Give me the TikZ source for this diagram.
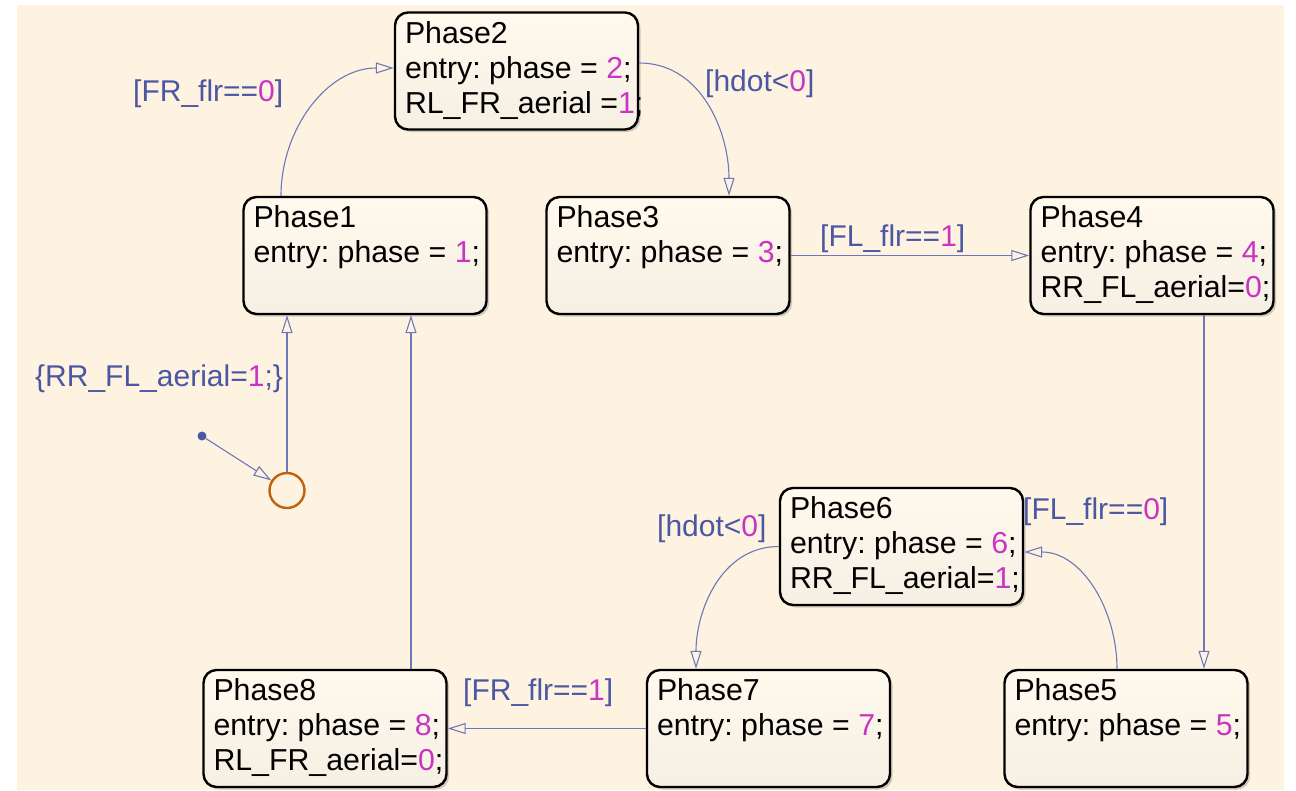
\documentclass[tikz,border=0pt]{standalone}
\usepackage{fontspec}
\setmainfont{Liberation Sans}
\usetikzlibrary{arrows.meta,shadows,calc}
\frenchspacing
\definecolor{bg}{HTML}{FEF3E0}
\definecolor{boxtop}{HTML}{FFF9EE}
\definecolor{boxbot}{HTML}{F6EFE3}
\definecolor{connc}{HTML}{6F77BB}
\definecolor{lblc}{HTML}{4C57A4}
\definecolor{numc}{HTML}{C935C3}
\definecolor{initc}{HTML}{C0620C}
\newcommand{\nm}[1]{\textcolor{numc}{#1}}
\begin{document}
\begin{tikzpicture}[x=1pt,y=-1pt,
  statebox/.style={draw=black, line width=2.4pt, rounded corners=13pt,
    minimum width=243pt, minimum height=117pt, inner sep=0pt,
    top color=boxtop, bottom color=boxbot,
    drop shadow={shadow xshift=2.5pt, shadow yshift=-2.5pt, opacity=0.3, fill=black!60}},
  stxt/.style={anchor=north west, inner sep=0pt, align=left,
    font=\fontsize{30.3}{34.8}\selectfont, text=black},
  lbl/.style={text=lblc, font=\fontsize{30}{34}\selectfont, inner sep=0pt, anchor=west},
  conn/.style={draw=connc, line width=1.1pt, -{Triangle[open, length=18pt, width=11pt]}}
]
\useasboundingbox (0,0) rectangle (1296,790);
\fill[white] (0,0) rectangle (1296,790);
\fill[bg] (17,5) rectangle (1284,790);

% states
\node[statebox] (p2) at (516.5,71) {};
\node[statebox] (p1) at (365,255.5) {};
\node[statebox] (p3) at (668,255.5) {};
\node[statebox] (p4) at (1152,255.5) {};
\node[statebox] (p6) at (901.5,546.5) {};
\node[statebox] (p7) at (768.5,728.5) {};
\node[statebox] (p8) at (325,728.5) {};
\node[statebox] (p5) at (1126,728.5) {};

\node[stxt] (p2t) at ($(p2.north west)+(11,10)$) {Phase2\\entry: phase = \nm{2};\\RL\_FR\_aerial =\nm{1};};
\node[stxt] (p1t) at ($(p1.north west)+(11,10)$) {Phase1\\entry: phase = \nm{1};};
\node[stxt] (p3t) at ($(p3.north west)+(11,10)$) {Phase3\\entry: phase = \nm{3};};
\node[stxt] (p4t) at ($(p4.north west)+(11,10)$) {Phase4\\entry: phase = \nm{4};\\RR\_FL\_aerial=\nm{0};};
\node[stxt] (p6t) at ($(p6.north west)+(11,10)$) {Phase6\\entry: phase = \nm{6};\\RR\_FL\_aerial=\nm{1};};
\node[stxt] (p7t) at ($(p7.north west)+(11,10)$) {Phase7\\entry: phase = \nm{7};};
\node[stxt] (p8t) at ($(p8.north west)+(11,10)$) {Phase8\\entry: phase = \nm{8};\\RL\_FR\_aerial=\nm{0};};
\node[stxt] (p5t) at ($(p5.north west)+(11,10)$) {Phase5\\entry: phase = \nm{5};};

% initial
\node[circle, fill=lblc, inner sep=0pt, minimum size=9pt] (dot) at (202,436) {};
\node[circle, draw=initc, line width=2.4pt, inner sep=0pt, minimum size=35pt] (init) at (287,490.5) {};

% transitions
\draw[conn] (dot) -- (init);
\draw[conn] (init.north) -- ($(p1.south)+(-78,0)$);
\draw[conn] ($(p1.north)+(-84,0)$) to[out=90,in=180] ($(p2.west)+(0,-3)$);
\draw[conn] ($(p2.east)+(0,-8)$) to[out=0,in=90] ($(p3.north)+(61,0)$);
\draw[conn] (p3.east) -- (p4.west);
\draw[conn] ($(p4.south)+(52,0)$) -- ($(p5.north)+(78,0)$);
\draw[conn] ($(p5.north)+(-9,0)$) to[out=90,in=0] ($(p6.east)+(0,5.5)$);
\draw[conn] (p6.west) to[out=180,in=90] ($(p7.north)+(-72.5,0)$);
\draw[conn] (p7.west) -- (p8.east);
\draw[conn] ($(p8.north)+(86,0)$) -- ($(p1.south)+(46,0)$);

% labels
\node[lbl] (l0) at (35,378.5) {\{RR\_FL\_aerial=\nm{1};\}};
\node[lbl] (l1) at (133,94) {[FR\_flr==\nm{0}]};
\node[lbl] (l2) at (705,84) {[hdot<\nm{0}]};
\node[lbl] (l3) at (820,239) {[FL\_flr==\nm{1}]};
\node[lbl] (l4) at (1023,512) {[FL\_flr==\nm{0}]};
\node[lbl] (l5) at (657,529) {[hdot<\nm{0}]};
\node[lbl] (l6) at (463,693) {[FR\_flr==\nm{1}]};
\end{tikzpicture}
\end{document}
